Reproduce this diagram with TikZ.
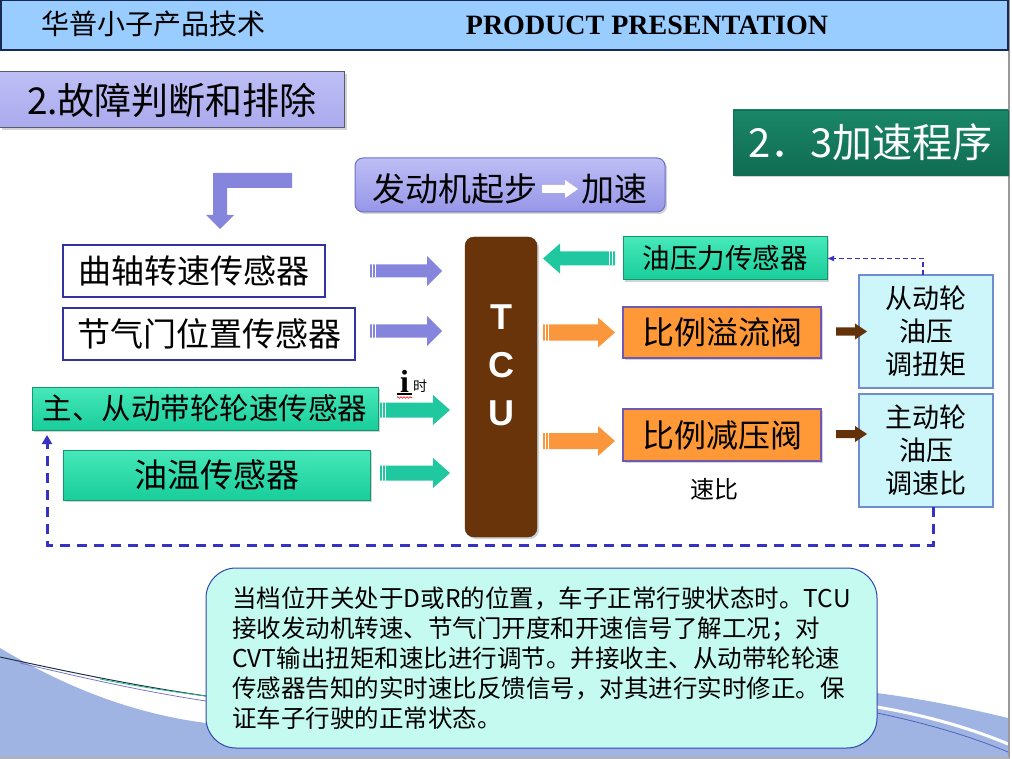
\documentclass[tikz,border=0pt]{standalone}
\usepackage{fontspec}
\setmainfont{Noto Sans CJK SC}
\newfontfamily\serifen{Liberation Serif}
\newfontfamily\sansen{Liberation Sans}
\usetikzlibrary{calc,shadows,decorations.pathmorphing,arrows.meta}
\definecolor{hdrblue}{RGB}{153,204,255}
\definecolor{hdrline}{RGB}{25,40,80}
\definecolor{lav}{RGB}{170,170,238}
\definecolor{lavtop}{RGB}{190,190,245}
\definecolor{lavbot}{RGB}{150,150,232}
\definecolor{lavline}{RGB}{90,90,110}
\definecolor{lavline2}{RGB}{110,110,200}
\definecolor{lavarr}{RGB}{133,133,221}
\definecolor{teal1}{RGB}{26,134,104}
\definecolor{teal2}{RGB}{16,108,82}
\definecolor{sensorblue}{RGB}{50,50,160}
\definecolor{grtop}{RGB}{70,232,185}
\definecolor{grbot}{RGB}{25,205,155}
\definecolor{grline}{RGB}{20,150,110}
\definecolor{grarr}{RGB}{32,200,160}
\definecolor{tcubrown}{RGB}{105,52,10}
\definecolor{orng}{RGB}{255,152,55}
\definecolor{orline}{RGB}{110,90,180}
\definecolor{orarr}{RGB}{250,150,60}
\definecolor{brarr}{RGB}{100,50,10}
\definecolor{cyanbox}{RGB}{204,246,250}
\definecolor{cyanline}{RGB}{110,140,210}
\definecolor{dashblue}{RGB}{55,50,195}
\definecolor{notefill}{RGB}{196,250,240}
\definecolor{noteline}{RGB}{50,70,170}
\definecolor{swoosh}{RGB}{160,180,228}
\definecolor{swline}{RGB}{80,100,190}
\definecolor{darkline}{RGB}{30,50,70}
\definecolor{greenline}{RGB}{40,180,140}
\definecolor{purpline}{RGB}{120,120,200}
\newcommand\harrow[6]{%
  \fill[#1] let \p1=(#2), \p2=(#3), \n1={sign(\x2-\x1)}, \n2={\n1*#6} in
   (\x1,\y1+#4) -- (\x2-\n2,\y1+#4) -- (\x2-\n2,\y1+#5) -- (\x2,\y1) --
   (\x2-\n2,\y1-#5) -- (\x2-\n2,\y1-#4) -- (\x1,\y1-#4) -- cycle;}
\newcommand\hsarrow[6]{%
  \harrow{#1}{#2}{#3}{#4}{#5}{#6}%
  \draw[white, line width=1pt] let \p1=(#2), \p2=(#3), \n1={sign(\x2-\x1)} in
   (\x1+\n1*2.5,\y1+#4) -- (\x1+\n1*2.5,\y1-#4)
   (\x1+\n1*5.5,\y1+#4) -- (\x1+\n1*5.5,\y1-#4);}
\begin{document}
\begin{tikzpicture}[x=1pt,y=-1pt,
  bx/.style 2 args={minimum width=#1pt, minimum height=#2pt, inner sep=0pt, outer sep=0pt},
  shd/.style={drop shadow={shadow xshift=2pt, shadow yshift=-2pt, opacity=0.35}},
  lavbox/.style={shd, top color=lavtop, bottom color=lav, draw=lavline, line width=1pt},
  sensor/.style={draw=sensorblue, line width=2.5pt, fill=white},
  greenbox/.style={shd, top color=grtop, bottom color=grbot, draw=grline, line width=1pt},
  orangebox/.style={shd, fill=orng, draw=orline, line width=1.5pt},
  cyanb/.style={fill=cyanbox, draw=cyanline, line width=1.5pt},
  thindash/.style={dashblue, line width=1.5pt, dash pattern=on 5pt off 3pt},
  thickdash/.style={dashblue, line width=3pt, dash pattern=on 10pt off 7pt},
  fz/.style={font=\fontsize{#1}{#1}\selectfont}]
\useasboundingbox (0,0) rectangle (1012,759);
% background swoosh
\fill[swoosh] (0,648) .. controls (50,678) and (120,712) .. (206,723) -- (600,740) -- (877,693)
  .. controls (930,700) and (975,710) .. (1008,718) -- (1008,759) -- (0,759) -- cycle;
\draw[white, line width=3pt] (877,707) .. controls (930,716) and (975,730) .. (1008,744);
\draw[swline, line width=0.8pt] (877,713) .. controls (930,724) and (975,738) .. (1008,752);
\draw[darkline, line width=1pt] (0,657) .. controls (60,670) and (130,685) .. (206,696);
\draw[greenline, line width=0.8pt] (100,679) .. controls (140,687) and (175,692) .. (206,696);
\draw[purpline, line width=0.8pt] (20,663) .. controls (80,677) and (140,691) .. (206,701);
\draw[gray!80, line width=2pt] (1009,0) -- (1009,759);
\draw[gray!60, line width=1.5pt] (0,758) -- (1009,758);
% header
\node[bx={1007}{50}, fill=hdrblue, draw=hdrline, line width=1.5pt] (hdr) at (504.5,25) {};
\node[fz=28, anchor=west] (hdrcn) at (38,24) {华普小子产品技术};
\node[font=\serifen\bfseries\fontsize{28}{30}\selectfont] (hdren) at (647,25) {PRODUCT PRESENTATION};
% section titles
\node[lavbox, bx={345}{56}, fz=37] (sec) at (172,100) {2.故障判断和排除};
\node[shd, bx={275}{65}, top color=teal1, bottom color=teal2, draw=teal2, text=white, fz=40] (sec2) at (870.5,142.5) {2．3加速程序};
% bent arrow
\fill[lavarr] (292,173) -- (213,173) -- (213,215) -- (206,215) -- (220,229) -- (234,215) -- (227,215) -- (227,188) -- (292,188) -- cycle;
% start box
\node[shd, bx={310}{54}, rounded corners=8pt, top color=lavtop, bottom color=lavbot, draw=lavline2, line width=1pt,
  label={[fz=33, yshift=-4pt]center:发动机起步\hspace{44pt}加速}] (start) at (510,185) {};
\fill[white] (542,185) -- (565,185) -- (565,180) -- (578,189) -- (565,198) -- (565,193) -- (542,193) -- cycle;
% left sensors
\node[sensor, bx={262}{52}, fz=33] (c1) at (194,271) {曲轴转速传感器};
\node[sensor, bx={292}{52}, fz=33] (c2) at (209,334) {节气门位置传感器};
\node[greenbox, bx={346}{43}, fz=29.5] (c3) at (205,408.5) {主、从动带轮轮速传感器};
\node[greenbox, bx={307}{50}, fz=33] (c4) at (216.5,475) {油温传感器};
% TCU
\node[shd, bx={72}{300}, rounded corners=9pt, fill=tcubrown, draw=tcubrown!80!black] (tcu) at (501,387) {};
\node[font=\sansen\bfseries\fontsize{36}{48}\selectfont, text=white, align=center] (tcut) at (501,365) {T\\C\\U};
% right side
\node[greenbox, bx={204}{43}, fz=27.5] (p1) at (725,258.5) {油压力传感器};
\node[orangebox, bx={198}{51}, fz=32] (v1) at (722,332.5) {比例溢流阀};
\node[orangebox, bx={198}{52}, fz=32] (v2) at (722,435) {比例减压阀};
\node[fz=24] (ratio) at (714,489) {速比};
\node[cyanb, bx={134}{113}, align=center, font=\fontsize{27}{33}\selectfont] (s1) at (926,331.5) {从动轮\\油压\\调扭矩};
\node[cyanb, bx={134}{113}, align=center, font=\fontsize{27}{33}\selectfont] (s2) at (926,450.5) {主动轮\\油压\\调速比};
% block arrows
\hsarrow{lavarr}{$(tcu.west|-c1)+(-95,0)$}{$(tcu.west|-c1)+(-23,0)$}{6.5}{15}{15}
\hsarrow{lavarr}{$(tcu.west|-c2)+(-95,-3)$}{$(tcu.west|-c2)+(-23,-3)$}{6.5}{15}{15}
\hsarrow{grarr}{$(tcu.west|-c3)+(-85,1.5)$}{$(tcu.west|-c3)+(-15,1.5)$}{7.5}{15}{17}
\hsarrow{grarr}{$(tcu.west|-c4)+(-85,-2)$}{$(tcu.west|-c4)+(-15,-2)$}{7.5}{15}{17}
\hsarrow{grarr}{$(p1.west)+(-8,0)$}{$(tcu.east|-p1)+(6,0)$}{7}{15}{17}
\hsarrow{orarr}{$(tcu.east|-v1)+(6,0)$}{$(v1.west)+(-8,0)$}{8}{15}{17}
\hsarrow{orarr}{$(tcu.east|-v2)+(6,6)$}{$(v2.west)+(-8,6)$}{8}{15}{17}
\harrow{brarr}{$(v1.east)+(15,-1)$}{$(s1.west|-v1)+(8,-1)$}{4}{8}{12}
\harrow{brarr}{$(v2.east)+(15,-1)$}{$(s2.west|-v2)+(8,-1)$}{4}{8}{12}
% i label
\node[font=\serifen\bfseries\fontsize{32}{34}\selectfont, anchor=base, inner sep=0pt] (ii) at (404.5,392) {i};
\draw[line width=1.2pt] (397,394) -- (412,394);
\draw[red, line width=0.6pt, decorate, decoration={snake, amplitude=0.8pt, segment length=3pt}] (397,397.5) -- (412,397.5);
\node[fz=14, inner sep=0pt] (shi) at (420,386) {时};
% dashed feedback lines
\draw[thindash, -{Latex[length=7pt,width=6pt]}] ($(s1.north)+(-3,0)$) |- (p1.east);
\coordinate (fbk) at ($(s2.south)+(7,38)$);
\draw[thickdash, -{Triangle[length=9pt,width=10pt]}] ($(s2.south)+(7,0)$) -- (fbk) -| ($(c3.south west)+(15,5)$);
% note
\node[bx={671}{180}, rounded corners=30pt, fill=notefill, draw=noteline, line width=1pt, align=left, font=\fontsize{24.5}{30}\selectfont] (note) at (541.5,658)
 {当档位开关处于D或R的位置，车子正常行驶状态时。TCU\\
  接收发动机转速、节气门开度和开速信号了解工况；对\\
  CVT输出扭矩和速比进行调节。并接收主、从动带轮轮速\\
  传感器告知的实时速比反馈信号，对其进行实时修正。保\\
  证车子行驶的正常状态。};
\end{tikzpicture}
\end{document}
